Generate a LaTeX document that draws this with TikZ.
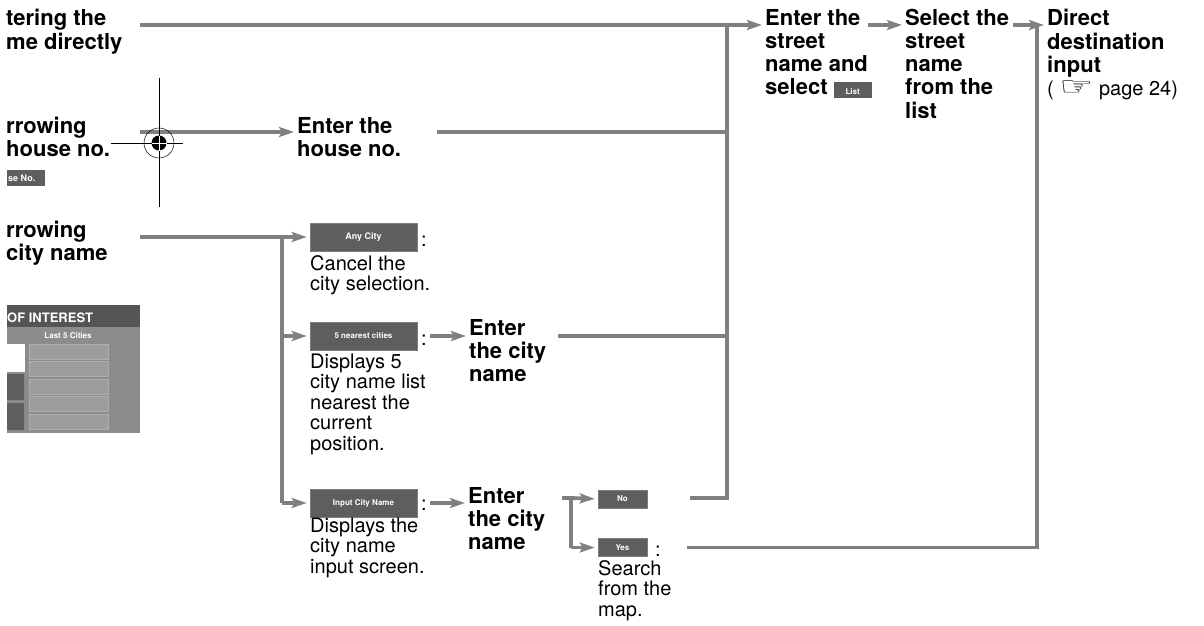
\documentclass[tikz,border=0pt]{standalone}
\usepackage{fontspec}
\usepackage{graphicx}
\setmainfont{TeX Gyre Heros}
\newfontfamily\handfont{DejaVu Sans}
\usetikzlibrary{positioning,calc,arrows.meta}
\definecolor{flowgrey}{HTML}{808080}
\definecolor{keygrey}{HTML}{5E5E5E}
\definecolor{screengrey}{HTML}{8C8C8C}
\newcommand{\stack}[1]{\begin{tabular}[t]{@{}l@{}}#1\end{tabular}}
\newcommand{\listkey}{{\setlength{\fboxsep}{2pt}\colorbox{keygrey}{\makebox[34pt]{\fontsize{8}{8}\selectfont\bfseries\color{white}\rule[-1pt]{0pt}{12pt}List}}}}

\begin{document}
\begin{tikzpicture}[x=1pt, y=-1pt,
  head/.style={font=\fontsize{22}{23}\selectfont\bfseries, inner sep=0pt, anchor=base west},
  note/.style={font=\fontsize{20}{20.5}\selectfont, inner sep=0pt, anchor=base west},
  key/.style={fill=keygrey, draw=keygrey!80, line width=0.6pt, minimum width=107pt, minimum height=28pt, inner sep=0pt, font=\fontsize{8}{8}\selectfont\bfseries, text=white},
  smallkey/.style={key, minimum width=49pt, minimum height=18pt},
  wire/.style={draw=flowgrey, line width=3.8pt},
  flow/.style={wire, shorten >=3pt, -{Stealth[length=15pt,width=10pt,inset=3pt]}},
]
\useasboundingbox (0,0) rectangle (1204,626);

% left column (cut off)
\node[head] (entDirect) at (6,26)  {\stack{tering the\\me directly}};
\node[head] (narHouse)  at (6,133) {\stack{rrowing\\house no.}};
\node[head] (narCity)   at (6,237) {\stack{rrowing\\city name}};
\fill[keygrey] (7,170) rectangle (45,186);
\node[font=\fontsize{9}{9}\selectfont\bfseries, text=white, anchor=west, inner sep=0pt] (houseKey) at (8,178) {se No.};

% screen shot
\fill[screengrey] (7,327) rectangle (140,433);
\fill[keygrey!90!black] (7,305) rectangle (140,327);
\node[font=\fontsize{13}{13}\selectfont\bfseries, text=white, anchor=base west, inner sep=0pt] (poiTitle) at (7,322) {OF INTEREST};
\node[font=\fontsize{8}{8}\selectfont\bfseries, text=white, inner sep=0pt] (lastFive) at (68,336) {Last 5 Cities};
\fill[white] (7,344) rectangle (25,372);
\fill[keygrey] (7,374) rectangle (24,400) (7,403) rectangle (24,430);
\foreach \top in {344,361.5,379,396.5,414}
  \draw[draw=screengrey!70!white, fill=screengrey!85!white, line width=0.5pt] (29,\top) rectangle (108,\top+15);

% street branch
\node[head] (enterHouse)  at (297,133) {\stack{Enter the\\house no.}};
\node[head] (enterStreet) at (765,26)  {\stack{Enter the\\street\\name and\\select \listkey}};
\node[head] (selStreet)   at (905,26)  {\stack{Select the\\street\\name\\from the\\list}};
\node[head] (directIn)    at (1047,26) {\stack{Direct\\destination\\input\\\mdseries\fontsize{20}{21}\selectfont( {\handfont\scalebox{1.9}[1.3]{☞}} page 24)}};

% city branch
\node[key, font=\fontsize{9}{9}\selectfont\bfseries] (anyKey) at (363.5,237) {Any City};
\node[key] (nearKey)  at (363.5,336) {5 nearest cities};
\node[key] (inputKey) at (363.5,503) {Input City Name};
\node[note] (anyColon)   at (421,246) {:};
\node[note] (nearColon)  at (421,345) {:};
\node[note] (inputColon) at (421,510) {:};
\node[note] (anyNote)   at (310,270) {\stack{Cancel the\\city selection.}};
\node[note] (nearNote)  at (310,368) {\stack{Displays 5\\city name list\\nearest the\\current\\position.}};
\node[note] (inputNote) at (310,532) {\stack{Displays the\\city name\\input screen.}};
\node[head] (enterCityA) at (469,335) {\stack{Enter\\the city\\name}};
\node[head] (enterCityB) at (468,503) {\stack{Enter\\the city\\name}};
\node[smallkey] (noKey)  at (622.5,499)   {No};
\node[smallkey] (yesKey) at (622.5,547.5) {Yes};
\node[note] (yesColon) at (655,556) {:};
\node[note] (yesNote)  at (598,575) {\stack{Search\\from the\\map.}};

% connectors
\coordinate (dirOut)   at (140,25);
\coordinate (houseOut) at (140,132);
\coordinate (cityOut)  at (140,237);
\coordinate (mergeA)   at (727,25);
\coordinate (mergeB)   at (1037,25);
\coordinate (citySplit) at (282,237);
\coordinate (ynSplit)  at (571,498);

\draw[flow] (dirOut) -- (dirOut -| enterStreet.west);
\draw[flow, shorten <=-4pt] (enterStreet.east |- mergeA) -- (mergeA -| selStreet.west);
\draw[flow, shorten <=4pt] (selStreet.east |- mergeB) -- (mergeB -| directIn.west);
\draw[flow] (houseOut) -- (houseOut -| enterHouse.west);
\draw[wire, shorten <=36pt] (enterHouse.east |- houseOut) -- (houseOut -| mergeA);
\draw[wire] (mergeA) -- (mergeA |- ynSplit);

\draw[wire] (cityOut) -- (citySplit) -- (citySplit |- inputKey);
\draw[flow] (citySplit) -- (anyKey.west);
\draw[flow] (citySplit |- nearKey) -- (nearKey.west);
\draw[flow] (citySplit |- inputKey) -- (inputKey.west);
\draw[flow, shorten <=3pt] (nearColon.east |- nearKey) -- (nearKey -| enterCityA.west);
\draw[flow, shorten <=3pt] (inputColon.east |- inputKey) -- (inputKey -| enterCityB.west);
\draw[wire, shorten <=12pt] (enterCityA.east |- nearKey) -- (nearKey -| mergeA);

\draw[wire, shorten <=17pt] (enterCityB.east |- ynSplit) -- (ynSplit) -- (ynSplit |- yesKey);
\draw[flow] (ynSplit) -- (noKey.west);
\draw[flow] (ynSplit |- yesKey) -- (yesKey.west);
\draw[wire, shorten <=43pt] (noKey.east |- ynSplit) -- (ynSplit -| mergeA) -- (mergeA);
\draw[wire, shorten <=40pt] (yesKey.east) -- (yesKey -| mergeB) -- (mergeB);

% register mark
\draw[line width=0.6pt] (159,78) -- (159,207) (111,143) -- (183,143);
\draw[line width=0.5pt] (159,143) circle[radius=15];
\fill (159,143) circle[radius=7.5];
\draw[white, line width=0.5pt] (151.5,143) -- (166.5,143) (159,135.5) -- (159,150.5);
\end{tikzpicture}
\end{document}
